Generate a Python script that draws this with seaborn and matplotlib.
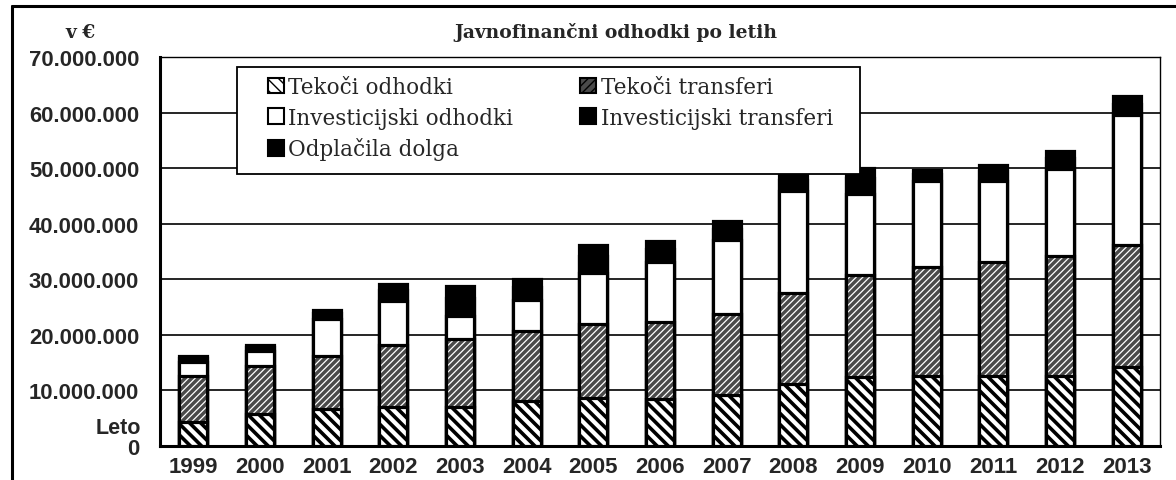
import numpy as np
import pandas as pd
import matplotlib
matplotlib.use("Agg")
import matplotlib.pyplot as plt
import matplotlib.patches as mpatches
from matplotlib.ticker import FuncFormatter, FixedLocator
import seaborn as sns

sns.set_style("white")

# data (v EUR)
leta = ["1999", "2000", "2001", "2002", "2003", "2004", "2005", "2006",
        "2007", "2008", "2009", "2010", "2011", "2012", "2013"]
tekoci_odhodki = [4.3e6, 5.8e6, 6.7e6, 7.0e6, 7.0e6, 8.1e6, 8.6e6, 8.5e6,
                  9.2e6, 11.2e6, 12.4e6, 12.6e6, 12.6e6, 12.6e6, 14.2e6]
tekoci_transferi = [8.3e6, 8.6e6, 9.5e6, 11.2e6, 12.3e6, 12.6e6, 13.4e6, 13.8e6,
                    14.6e6, 16.4e6, 18.4e6, 19.6e6, 20.6e6, 21.6e6, 22.0e6]
investicijski_odhodki = [2.6e6, 2.7e6, 6.7e6, 7.9e6, 4.1e6, 5.6e6, 9.2e6, 10.9e6,
                         13.3e6, 18.2e6, 14.6e6, 15.4e6, 14.5e6, 15.7e6, 23.4e6]
investicijski_transferi = [0.6e6, 0.7e6, 1.0e6, 1.9e6, 3.2e6, 2.3e6, 3.0e6, 2.2e6,
                           2.0e6, 2.0e6, 2.8e6, 1.3e6, 1.7e6, 1.9e6, 2.0e6]
odplacila_dolga = [0.4e6, 0.4e6, 0.6e6, 1.2e6, 2.2e6, 1.5e6, 2.0e6, 1.4e6,
                   1.4e6, 1.4e6, 1.9e6, 0.8e6, 1.1e6, 1.2e6, 1.3e6]

df = pd.DataFrame({"leto": leta})
df["s1"] = np.array(tekoci_odhodki)
df["s2"] = df["s1"] + np.array(tekoci_transferi)
df["s3"] = df["s2"] + np.array(investicijski_odhodki)
df["s4"] = df["s3"] + np.array(investicijski_transferi)
df["s5"] = df["s4"] + np.array(odplacila_dolga)

fig = plt.figure(figsize=(11.76, 4.81), dpi=100)
ax = fig.add_axes([160 / 1176, 34 / 481, 1000 / 1176, 389 / 481])

W = 0.42
LW = 2.3


def bars(col, hatch_lw=None, **kw):
    n0 = len(ax.patches)
    sns.barplot(data=df, x="leto", y=col, ax=ax, width=W, saturation=1,
                errorbar=None, zorder=3, **kw)
    if hatch_lw is not None:
        for p in ax.patches[n0:]:
            if hasattr(p, "set_hatch_linewidth"):
                p.set_hatch_linewidth(hatch_lw)


# stacked by overdrawing cumulative sums, top first
bars("s5", color="black", edgecolor="black", linewidth=LW)
bars("s4", color="black", edgecolor="black", linewidth=LW)
bars("s3", color="white", edgecolor="black", linewidth=LW)
bars("s2", color="#4a4a4a", edgecolor="white", linewidth=0, hatch="/////", hatch_lw=0.9)
bars("s2", color="black", fill=False, linewidth=LW)
bars("s1", color="white", edgecolor="black", linewidth=LW, hatch="\\\\\\", hatch_lw=2.6)

ax.set_xlim(-0.5, 14.5)
ax.set_ylim(0, 70e6)
ax.set_yticks(np.arange(0, 70e6 + 1, 10e6))
ax.yaxis.set_major_formatter(FuncFormatter(lambda v, p: f"{v:,.0f}".replace(",", ".")))
ax.yaxis.grid(True, color="black", linewidth=1.2)
ax.set_axisbelow(True)
ax.set_xlabel("")
ax.set_ylabel("")

ax.xaxis.set_minor_locator(FixedLocator(np.arange(0.5, 14.5, 1)))
ax.tick_params(axis="x", which="major", length=0, pad=7)
ax.tick_params(axis="x", which="minor", length=5, width=1.5, direction="out")
ax.tick_params(axis="y", length=5, width=1.5, direction="out", pad=10)
for lab in ax.get_xticklabels():
    lab.set_fontfamily("Liberation Sans")
    lab.set_fontweight("bold")
    lab.set_fontsize(16)
for lab in ax.get_yticklabels():
    lab.set_fontfamily("Liberation Sans")
    lab.set_fontweight("bold")
    lab.set_fontsize(15.8)

for s in ["left", "bottom"]:
    ax.spines[s].set_linewidth(2.2)
for s in ["top", "right"]:
    ax.spines[s].set_linewidth(1.0)
for s in ax.spines.values():
    s.set_color("black")
    s.set_visible(True)

# title and side texts
fig.text(616 / 1176, 1 - 33 / 481, "Javnofinančni odhodki po letih",
         ha="center", va="center", family="DejaVu Serif",
         fontweight="bold", fontsize=13.5)
fig.text(80 / 1176, 1 - 33 / 481, "v €", ha="center", va="center",
         family="DejaVu Serif", fontweight="bold", fontsize=13.5)
fig.text(141 / 1176, 1 - 429 / 481, "Leto", ha="right", va="center",
         family="Liberation Sans", fontweight="bold", fontsize=15.5)

# outer frame (left and top only visible)
fig.add_artist(plt.Line2D([12 / 1176, 12 / 1176], [0, 1 - 7 / 481],
                          transform=fig.transFigure, color="black", linewidth=2.2))
fig.add_artist(plt.Line2D([12 / 1176, 1], [1 - 7 / 481, 1 - 7 / 481],
                          transform=fig.transFigure, color="black", linewidth=2.2))

# legend box
fig.add_artist(mpatches.Rectangle((237 / 1176, 1 - 175 / 481), 623 / 1176, 107 / 481,
                                  transform=fig.transFigure, facecolor="white",
                                  edgecolor="black", linewidth=1.3, zorder=9))

h_to = mpatches.Patch(facecolor="white", edgecolor="black", hatch="\\\\\\", linewidth=1.5)
h_tt = mpatches.Patch(facecolor="#4a4a4a", edgecolor="black", hatch="////", linewidth=1.5)
h_io = mpatches.Patch(facecolor="white", edgecolor="black", linewidth=1.5)
h_it = mpatches.Patch(facecolor="black", edgecolor="black", linewidth=1.5)
h_od = mpatches.Patch(facecolor="black", edgecolor="black", linewidth=1.5)
leg = fig.legend([h_to, h_io, h_od, h_tt, h_it],
                 ["Tekoči odhodki", "Investicijski odhodki", "Odplačila dolga",
                  "Tekoči transferi", "Investicijski transferi"],
                 ncol=2, loc="upper left", bbox_to_anchor=(268 / 1176, 1 - 77 / 481),
                 prop={"family": "DejaVu Serif", "size": 15.5},
                 frameon=False,
                 handlelength=0.75, handleheight=0.75, handletextpad=0.2,
                 columnspacing=3.1, labelspacing=0.4, borderpad=0,
                 borderaxespad=0)
leg.set_zorder(10)

fig.savefig("out.png", dpi=100)
